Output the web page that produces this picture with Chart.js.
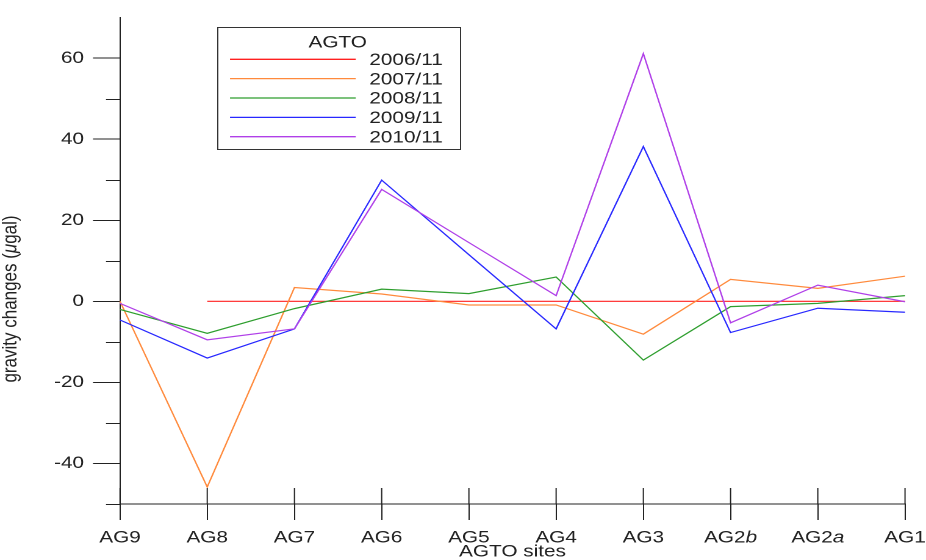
<!DOCTYPE html>
<html>
<head>
<meta charset="utf-8">
<script src="https://cdn.jsdelivr.net/npm/chart.js@4.4.1/dist/chart.umd.min.js"></script>
<style>
  html, body { margin: 0; padding: 0; background: #fff; overflow: hidden; }
  /* the chart is laid out on a narrower canvas and widened, giving the wide lettering */
  #wrap { position: absolute; left: 0; top: 0; width: 759px; height: 560px;
          transform: scaleX(1.22); transform-origin: 0 0; }
  canvas { display: block; }
</style>
</head>
<body>
<div id="wrap"><canvas id="c" width="759" height="560"></canvas></div>
<script>
// ---- data ---------------------------------------------------------------
const sites = ['AG9', 'AG8', 'AG7', 'AG6', 'AG5', 'AG4', 'AG3', 'AG2b', 'AG2a', 'AG1'];
const surveys = ['2006/11', '2007/11', '2008/11', '2009/11', '2010/11'];

// gravity change at each site, microgal
const g2006 = [null, 0, 0, 0, 0, 0, 0, 0, 0, 0];
const g2007 = [0, -45.8, 3.4, 1.8, -0.9, -0.9, -8.1, 5.4, 3.2, 6.2];
const g2008 = [-2.0, -7.9, -1.8, 3.0, 1.9, 6.0, -14.5, -1.3, -0.5, 1.4];
const g2009 = [-4.6, -14.0, -6.8, 29.9, 11.5, -6.8, 38.2, -7.7, -1.7, -2.7];
const g2010 = [-0.5, -9.5, -6.8, 27.6, 14.5, 1.4, 61.1, -5.3, 4.0, -0.1];

const yMajorTicks = [-40, -20, 0, 20, 40, 60];
const yMinorTicks = [-50, -30, -10, 10, 30, 50];
const yRange = [-50, 70];

const legendTitle = 'AGTO';
const xTitle = 'AGTO sites';

// ---- styling --------------------------------------------------------------
const K = 1.22;                 // horizontal widening applied by CSS
const FONT = '"Liberation Sans", Arial, sans-serif';
const INK = '#222';
const colors = ['#ff2020', '#ff8a3c', '#2e9e2e', '#2828ff', '#b040e8'];
const series = [g2006, g2007, g2008, g2009, g2010];

const datasets = series.map((vals, i) => ({
  label: surveys[i],
  data: vals,
  borderColor: colors[i],
  backgroundColor: colors[i],
  borderWidth: 1.2,
  pointRadius: 0,
  tension: 0,
  fill: false,
  spanGaps: false,
  order: series.length - i
}));

// draws text with an italic trailing part (e.g. "AG2" + "b")
function drawMixed(ctx, parts, cx, cy) {
  const widths = parts.map(p => { ctx.font = p.f; return ctx.measureText(p.t).width; });
  const total = widths.reduce((a, b) => a + b, 0);
  let x = cx - total / 2;
  ctx.textAlign = 'left';
  ctx.textBaseline = 'middle';
  parts.forEach((p, i) => { ctx.font = p.f; ctx.fillText(p.t, x, cy); x += widths[i]; });
}
function splitItalic(label) {
  const m = label.match(/^(.*\d)([a-z])$/);
  const up = '17px ' + FONT, it = 'italic 17px ' + FONT;
  return m ? [{ t: m[1], f: up }, { t: m[2], f: it }] : [{ t: label, f: up }];
}

const decor = {
  id: 'decor',
  afterDraw(chart) {
    const { ctx, chartArea: a, scales: { x, y } } = chart;
    ctx.save();
    ctx.strokeStyle = INK;
    ctx.fillStyle = INK;
    ctx.lineWidth = 1;

    // minor ticks on the value axis
    yMinorTicks.forEach(v => {
      const py = Math.round(y.getPixelForValue(v)) + 0.5;
      ctx.beginPath(); ctx.moveTo(a.left - 14 / K, py); ctx.lineTo(a.left, py); ctx.stroke();
    });
    // site ticks crossing the axis (upper half)
    sites.forEach((s, i) => {
      const px = x.getPixelForTick(i);
      ctx.beginPath(); ctx.moveTo(px, a.bottom - 16); ctx.lineTo(px, a.bottom); ctx.stroke();
    });
    // site labels
    sites.forEach((s, i) => drawMixed(ctx, splitItalic(s), x.getPixelForTick(i), 538));
    // axis titles
    ctx.font = '17px ' + FONT;
    ctx.textAlign = 'center'; ctx.textBaseline = 'middle';
    ctx.fillText(xTitle, (a.left + a.right) / 2, 552);

    ctx.save();
    ctx.translate(9, 299);
    ctx.rotate(-Math.PI / 2);
    drawMixed(ctx, [
      { t: 'gravity changes (', f: '17px ' + FONT },
      { t: '\u03bc', f: 'italic 17px ' + FONT },
      { t: 'gal)', f: '17px ' + FONT }
    ], 0, 0);
    ctx.restore();

    // legend
    const L = 217.3 / K, R = 460 / K, T = 27.3, B = 149;
    ctx.fillStyle = '#fff';
    ctx.fillRect(L, T, R - L, B - T);
    ctx.strokeStyle = '#333';
    ctx.strokeRect(Math.round(L) + 0.5, Math.round(T) + 0.5, Math.round(R - L), Math.round(B - T));
    ctx.fillStyle = INK;
    ctx.font = '17px ' + FONT;
    ctx.textAlign = 'center'; ctx.textBaseline = 'middle';
    ctx.fillText(legendTitle, 337.7 / K, 43);
    chart.data.datasets.forEach((d, i) => {
      const ly = 59.3 + i * 19.35;
      ctx.strokeStyle = d.borderColor;
      ctx.lineWidth = 1.3;
      ctx.beginPath(); ctx.moveTo(230 / K, ly); ctx.lineTo(355.7 / K, ly); ctx.stroke();
      ctx.fillStyle = INK;
      ctx.textAlign = 'left';
      ctx.fillText(d.label, 369.3 / K, ly + 1);
    });
    ctx.restore();
  }
};

new Chart(document.getElementById('c'), {
  type: 'line',
  data: { labels: sites, datasets },
  options: {
    responsive: false,
    devicePixelRatio: 2,
    animation: false,
    events: [],
    layout: { padding: { top: 15.5, right: 759 - 905 / K, bottom: 0, left: 0 } },
    plugins: { legend: { display: false }, tooltip: { enabled: false } },
    scales: {
      x: {
        type: 'category',
        offset: false,
        border: { display: true, color: INK, width: 1 },
        grid: { drawOnChartArea: false, drawTicks: true, tickLength: 16, tickColor: INK, offset: false },
        ticks: { display: false, autoSkip: false },
        afterFit(s) { s.height = 560 - 504; }
      },
      y: {
        min: yRange[0], max: yRange[1],
        border: { display: true, color: INK, width: 1 },
        grid: { drawOnChartArea: false, drawTicks: true, tickLength: 27 / K, tickColor: INK },
        ticks: { color: INK, font: { family: FONT, size: 17 }, padding: 9 / K },
        afterBuildTicks(s) { s.ticks = yMajorTicks.map(v => ({ value: v })); },
        afterFit(s) { s.width = 120 / K; }
      }
    }
  },
  plugins: [decor]
});
</script>
</body>
</html>
